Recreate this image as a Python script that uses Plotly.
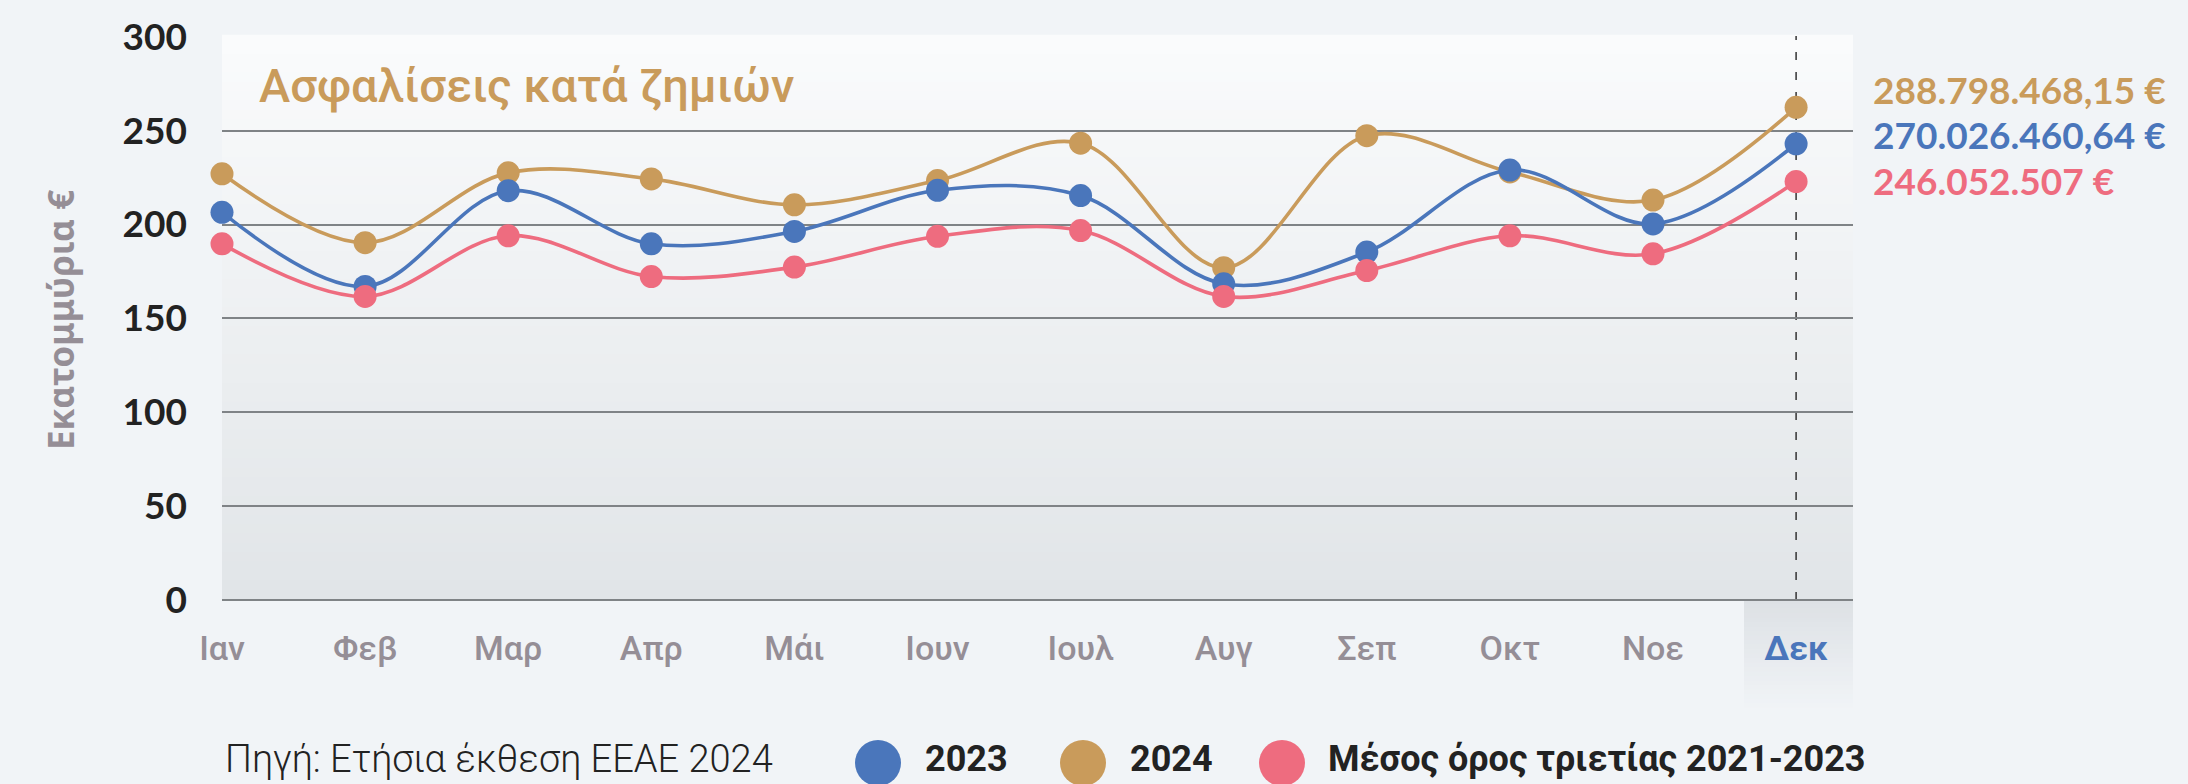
import plotly.graph_objects as go

months = ["Ιαν", "Φεβ", "Μαρ", "Απρ", "Μάι", "Ιουν", "Ιουλ", "Αυγ", "Σεπ", "Οκτ", "Νοε", "Δεκ"]
y2023 = [206.5, 167, 218, 189.7, 196.3, 218.2, 215.4, 168.4, 185.3, 229, 200.3, 243]
y2024 = [227, 190.3, 227.5, 224.3, 210.5, 223.4, 243.3, 177, 247.3, 228, 213, 262.4]
avg = [189.7, 161.7, 194, 172.3, 177.3, 193.7, 196.8, 161.7, 175.5, 194, 184.4, 222.9]
yticks = [0, 50, 100, 150, 200, 250, 300]
totals = ["288.798.468,15 €", "270.026.460,64 €", "246.052.507 €"]
series_names = ["2023", "2024", "Μέσος όρος τριετίας 2021-2023"]

BLUE = "#4a76bb"
GOLD = "#c99b5b"
RED = "#ee6c7f"
PAGE = "#f1f4f7"
GRAYTXT = "#958e96"

W, H = 2188, 784
ML, MR, MT, MB = 222, 335, 36, 184
pw = W - ML - MR
ph = H - MT - MB

fig = go.Figure()
xs = list(range(len(months)))
for name, vals, col in [("2024", y2024, GOLD), ("2023", y2023, BLUE), ("Μέσος όρος τριετίας 2021-2023", avg, RED)]:
    fig.add_trace(go.Scatter(
        x=xs, y=vals, name=name, mode="lines+markers",
        line=dict(color=col, width=3.6, shape="spline"),
        marker=dict(color=col, size=23),
        cliponaxis=False, showlegend=False,
    ))

def lerp(c1, c2, t):
    a = [int(c1[i:i + 2], 16) for i in (1, 3, 5)]
    b = [int(c2[i:i + 2], 16) for i in (1, 3, 5)]
    return "rgb(%d,%d,%d)" % tuple(round(a[k] + (b[k] - a[k]) * t) for k in range(3))

shapes = []
N = 60
for i in range(N):
    t = i / (N - 1)
    shapes.append(dict(type="rect", xref="x domain", yref="y domain",
                       x0=0, x1=1, y0=1 - (i + 1) / N, y1=1 - i / N + 0.002,
                       fillcolor=lerp("#fafbfc", "#e1e5e8", t), line=dict(width=0), layer="below"))
# Dec column highlight under the axis
M = 25
hl_x0 = (1744 - ML) / pw
for i in range(M):
    t = i / (M - 1)
    shapes.append(dict(type="rect", xref="paper", yref="paper",
                       x0=hl_x0, x1=1, y0=-(i + 1) * 0.2 / M, y1=-i * 0.2 / M + 0.001,
                       fillcolor=lerp("#dde1e5", PAGE, t), line=dict(width=0), layer="below"))
# dashed reference at Dec
shapes.append(dict(type="line", xref="x", yref="y domain", x0=11, x1=11, y0=0, y1=1,
                   line=dict(color="#333333", width=1.5, dash="8px,12px"), layer="below"))

# legend circles
leg_y = (600 - 759) / ph
for px, col in [(878, BLUE), (1083, GOLD), (1282, RED)]:
    shapes.append(dict(type="circle", xref="paper", yref="paper", xsizemode="pixel", ysizemode="pixel",
                       xanchor=(px - ML) / pw, yanchor=(600 - 763) / ph,
                       x0=-23, x1=23, y0=-23, y1=23, fillcolor=col, line=dict(width=0)))

annotations = []
annotations.append(dict(text="Ασφαλίσεις κατά ζημιών", xref="paper", yref="paper",
                        x=(257 - ML) / pw, y=(600 - 86) / ph, xanchor="left", yanchor="middle",
                        showarrow=False, font=dict(family="Roboto", size=47, color=GOLD, weight=500)))
for txt, col, py in zip(totals, [GOLD, BLUE, RED], [90, 135, 180]):
    annotations.append(dict(text="<b>%s</b>" % txt, xref="paper", yref="paper",
                            x=(1872 - ML) / pw, y=(600 - py) / ph, xanchor="left", yanchor="middle",
                            showarrow=False, borderpad=0, font=dict(family="Lato", size=37, color=col)))
annotations.append(dict(text="<b>Εκατομμύρια €</b>", xref="paper", yref="paper",
                        x=(60 - ML) / pw, y=(600 - 320) / ph, xanchor="center", yanchor="middle", textangle=-90,
                        showarrow=False, font=dict(family="Noto Sans", size=35, color=GRAYTXT)))
annotations.append(dict(text="Πηγή: Ετήσια έκθεση ΕΕΑΕ 2024", xref="paper", yref="paper",
                        x=(223 - ML) / pw, y=leg_y, xanchor="left", yanchor="middle",
                        showarrow=False, font=dict(family="Roboto", size=38, color="#222222", weight=300)))
for name, px in zip(series_names, [923, 1128, 1326]):
    annotations.append(dict(text="<b>%s</b>" % name, xref="paper", yref="paper",
                            x=(px - ML) / pw, y=leg_y, xanchor="left", yanchor="middle",
                            showarrow=False, font=dict(family="Roboto", size=36, color="#222222")))

ticktext = months[:-1] + ["<b><span style='color:%s'>%s</span></b>" % (BLUE, months[-1])]

fig.update_layout(
    width=W, height=H,
    margin=dict(l=ML, r=MR, t=MT, b=MB, autoexpand=False),
    paper_bgcolor=PAGE, plot_bgcolor="#eef1f4",
    shapes=shapes, annotations=annotations,
    showlegend=False,
    xaxis=dict(range=[0, pw / 143.1], tickvals=xs, ticktext=ticktext, showgrid=False, zeroline=False,
               showline=False, ticks="", ticklabelstandoff=25,
               tickfont=dict(family="Roboto", size=34, color=GRAYTXT, weight=500)),
    yaxis=dict(range=[0, 300.4], tickvals=yticks, showgrid=True, gridcolor="#7f8386", gridwidth=1.5,
               zeroline=True, zerolinecolor="#7f8386", zerolinewidth=1.5, showline=False,
               ticks="", ticklabelstandoff=34,
               tickfont=dict(family="Lato", size=37, color="#222222", weight="bold")),
)

fig.write_html("out.html", config={"displayModeBar": False},
               post_script="document.body.style.margin='0';document.body.style.background='%s';" % PAGE)
